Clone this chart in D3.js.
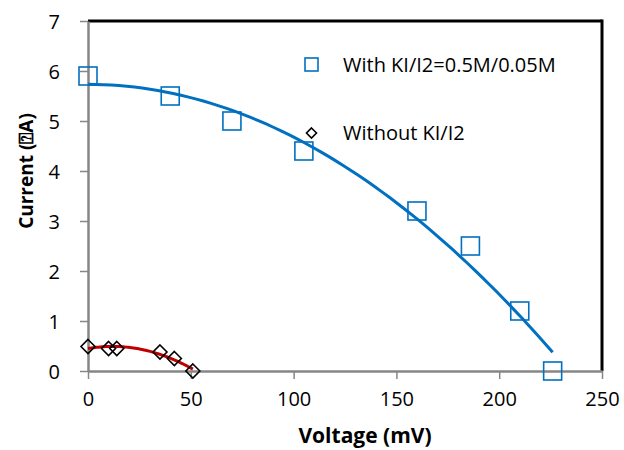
<!DOCTYPE html>
<html>
<head>
<meta charset="utf-8">
<script src="https://cdn.jsdelivr.net/npm/d3@7"></script>
<style>
  body { margin: 0; background: #fff; }
  text { font-family: "Open Sans", "Noto Sans", sans-serif; fill: #000; }
</style>
</head>
<body>
<div id="chart"></div>
<script>
// data
var withVolt = [0, 40, 70, 105, 160, 186, 210, 226];
var withCurr = [5.9, 5.5, 5.0, 4.4, 3.2, 2.5, 1.2, 0];
var noVolt = [0, 10, 14, 35, 42, 51];
var noCurr = [0.49, 0.45, 0.45, 0.38, 0.25, 0];
var xTicks = [0, 50, 100, 150, 200, 250];
var yTicks = [0, 1, 2, 3, 4, 5, 6, 7];
var legendLabels = ["With KI/I2=0.5M/0.05M", "Without KI/I2"];

var W = 624, H = 450;
var margin = { top: 21, right: 22, bottom: 79, left: 88 };
var width = W - margin.left - margin.right,
    height = H - margin.top - margin.bottom;

var svg = d3.select("#chart").append("svg")
    .attr("width", W)
    .attr("height", H);

var g = svg.append("g")
    .attr("transform", "translate(" + margin.left + "," + margin.top + ")");

var x = d3.scaleLinear().domain([0, 250]).range([0, width]);
var y = d3.scaleLinear().domain([0, 7]).range([height, 0]);

// quadratic least-squares trendline (like Excel's poly order 2)
function polyFit(xs, ys) {
    var n = xs.length, s = [0, 0, 0, 0, 0], t = [0, 0, 0];
    for (var i = 0; i < n; i++) {
        var p = 1;
        for (var k = 0; k < 5; k++) { s[k] += p; if (k < 3) t[k] += p * ys[i]; p *= xs[i]; }
    }
    var A = [[s[0], s[1], s[2], t[0]], [s[1], s[2], s[3], t[1]], [s[2], s[3], s[4], t[2]]];
    for (var c = 0; c < 3; c++) {
        for (var r = c + 1; r < 3; r++) {
            var f = A[r][c] / A[c][c];
            for (var q = c; q < 4; q++) A[r][q] -= f * A[c][q];
        }
    }
    var b = [0, 0, 0];
    for (var r2 = 2; r2 >= 0; r2--) {
        var v = A[r2][3];
        for (var q2 = r2 + 1; q2 < 3; q2++) v -= A[r2][q2] * b[q2];
        b[r2] = v / A[r2][r2];
    }
    return function (v) { return b[0] + b[1] * v + b[2] * v * v; };
}

function trend(xs, ys) {
    var f = polyFit(xs, ys);
    var lo = d3.min(xs), hi = d3.max(xs);
    return d3.range(0, 61).map(function (i) {
        var v = lo + (hi - lo) * i / 60;
        return [v, f(v)];
    });
}

var line = d3.line()
    .x(function (d) { return x(d[0]); })
    .y(function (d) { return y(d[1]); });

// frame: top and right black
g.append("line").attr("x1", 0).attr("x2", width).attr("y1", 0).attr("y2", 0)
    .attr("stroke", "#000").attr("stroke-width", 3);
g.append("line").attr("x1", width).attr("x2", width).attr("y1", -1.5).attr("y2", height)
    .attr("stroke", "#000").attr("stroke-width", 3);

// axes
var xAxis = g.append("g")
    .attr("transform", "translate(0," + height + ")")
    .call(d3.axisBottom(x).tickValues(xTicks).tickFormat(d3.format("d"))
        .tickSize(8).tickPadding(12).tickSizeOuter(0));
var yAxis = g.append("g")
    .call(d3.axisLeft(y).tickValues(yTicks).tickFormat(d3.format("d"))
        .tickSize(8).tickPadding(20).tickSizeOuter(0));

[xAxis, yAxis].forEach(function (a) {
    a.select(".domain").attr("stroke", "#868686").attr("stroke-width", 2.5);
    a.selectAll(".tick line").attr("stroke", "#868686").attr("stroke-width", 1.5);
    a.selectAll(".tick text").style("font-size", "20px").attr("fill", "#000");
});
yAxis.selectAll(".tick text").attr("dy", "0.36em");
xAxis.selectAll(".tick text").attr("dy", "0.75em");

// trendlines
g.append("path").datum(trend(withVolt, withCurr))
    .attr("d", line).attr("fill", "none")
    .attr("stroke", "#0070C0").attr("stroke-width", 3);
g.append("path").datum(trend(noVolt, noCurr))
    .attr("d", line).attr("fill", "none")
    .attr("stroke", "#C00000").attr("stroke-width", 3);

// markers
var withData = withVolt.map(function (v, i) { return [v, withCurr[i]]; });
var noData = noVolt.map(function (v, i) { return [v, noCurr[i]]; });

g.selectAll(".sq").data(withData).enter().append("rect")
    .attr("class", "sq")
    .attr("x", function (d) { return x(d[0]) - 9; })
    .attr("y", function (d) { return y(d[1]) - 9; })
    .attr("width", 18).attr("height", 18)
    .attr("fill", "none").attr("stroke", "#0070C0").attr("stroke-width", 1.6);

var diamond = "M0,-7L7,0L0,7L-7,0Z";
g.selectAll(".dm").data(noData).enter().append("path")
    .attr("class", "dm")
    .attr("d", diamond)
    .attr("transform", function (d) { return "translate(" + x(d[0]) + "," + y(d[1]) + ")"; })
    .attr("fill", "none").attr("stroke", "#000").attr("stroke-width", 1.6);

// legend
var leg = svg.append("g");
leg.append("rect").attr("x", 305).attr("y", 58).attr("width", 13).attr("height", 13)
    .attr("fill", "none").attr("stroke", "#0070C0").attr("stroke-width", 1.6);
leg.append("path").attr("d", "M0,-5L5,0L0,5L-5,0Z")
    .attr("transform", "translate(311.5,133)")
    .attr("fill", "none").attr("stroke", "#000").attr("stroke-width", 1.6);
leg.selectAll(".lt").data(legendLabels).enter().append("text")
    .attr("x", 343)
    .attr("y", function (d, i) { return i === 0 ? 72 : 140; })
    .style("font-size", "20px")
    .text(function (d) { return d; });

// axis titles
svg.append("text")
    .attr("x", 365).attr("y", 443)
    .attr("text-anchor", "middle")
    .style("font-size", "21px").style("font-weight", "bold")
    .text("Voltage (mV)");
svg.append("text")
    .attr("transform", "translate(33,171) rotate(-90)")
    .attr("text-anchor", "middle")
    .style("font-size", "19px").style("font-weight", "bold")
    .text("Current (\u2370A)");
</script>
</body>
</html>
